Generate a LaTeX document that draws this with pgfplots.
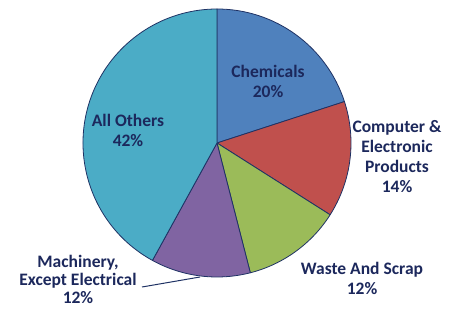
\documentclass[border=0pt]{standalone}
\usepackage{pgfplots}
\pgfplotsset{compat=1.18}
\usepackage{pgfplotstable}
\usepackage{fontspec}
\setmainfont{Carlito}
\usetikzlibrary{calc}
\definecolor{cChem}{RGB}{79,129,189}
\definecolor{cComp}{RGB}{192,80,77}
\definecolor{cWaste}{RGB}{155,187,89}
\definecolor{cMach}{RGB}{128,100,162}
\definecolor{cOther}{RGB}{75,172,198}
\definecolor{outl}{RGB}{31,50,100}
\definecolor{txt}{RGB}{28,40,92}
\pgfplotstableread{
label value
Chemicals 20
Computer 14
Waste 12
Machinery 12
Others 42
}\piedata
\pgfplotstablegetelem{0}{value}\of\piedata \let\vA\pgfplotsretval
\pgfplotstablegetelem{1}{value}\of\piedata \let\vB\pgfplotsretval
\pgfplotstablegetelem{2}{value}\of\piedata \let\vC\pgfplotsretval
\pgfplotstablegetelem{3}{value}\of\piedata \let\vD\pgfplotsretval
\pgfplotstablegetelem{4}{value}\of\piedata \let\vE\pgfplotsretval
\pgfmathsetmacro\aA{90}
\pgfmathsetmacro\aB{\aA-3.6*\vA}
\pgfmathsetmacro\aC{\aB-3.6*\vB}
\pgfmathsetmacro\aD{\aC-3.6*\vC}
\pgfmathsetmacro\aE{\aD-3.6*\vD}
\pgfmathsetmacro\aF{\aE-3.6*\vE}
\def\R{134}
\newcommand\pieslice[3]{%
  \filldraw[fill=#1,draw=outl,line width=0.8pt,line join=round]
    (axis cs:217,167) -- ($(axis cs:217,167)+(#2:\R pt)$)
    arc[start angle=#2,end angle=#3,radius=\R pt] -- cycle;}
\begin{document}
\begin{tikzpicture}
\begin{axis}[width=449pt,height=310pt,scale only axis,
  xmin=0,xmax=449,ymin=0,ymax=310,hide axis,clip=false]
\pieslice{cChem}{\aA}{\aB}
\pieslice{cComp}{\aB}{\aC}
\pieslice{cWaste}{\aC}{\aD}
\pieslice{cMach}{\aD}{\aE}
\pieslice{cOther}{\aE}{\aF}
\begin{scope}[every node/.style={font=\fontsize{17.5}{20}\selectfont\bfseries,text=txt,align=center,inner sep=0pt}]
\node at (axis cs:268,229) {Chemicals\\20\%};
\node at (axis cs:397,153) {Computer \&\\Electronic\\Products\\14\%};
\node at (axis cs:128,180) {All Others\\42\%};
\node[font=\fontsize{17.5}{18}\selectfont\bfseries] at (axis cs:78,31) {Machinery,\\Except Electrical\\12\%};
\node at (axis cs:362,32) {Waste And Scrap\\12\%};
\end{scope}
\draw[outl,line width=1pt] (axis cs:142,23) -- (axis cs:200,33);
\end{axis}
\pgfresetboundingbox
\useasboundingbox (current axis.south west) rectangle (current axis.north east);
\end{tikzpicture}
\end{document}
